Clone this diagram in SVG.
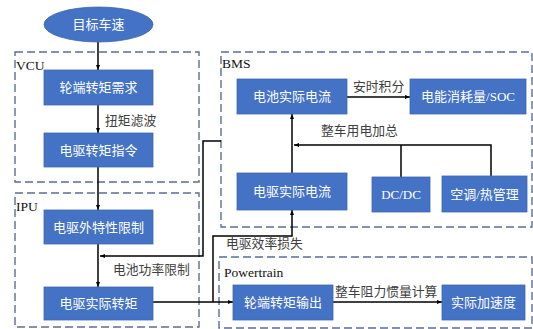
<svg xmlns="http://www.w3.org/2000/svg" width="533" height="329" viewBox="0 0 533 329">
<style>
.grp{fill:none;stroke:#5a6e93;stroke-width:1.4;stroke-dasharray:8,4}
.box{fill:#4472c4;stroke:#3f68b2;stroke-width:0.8}
.bt{fill:#ffffff;font-family:"Liberation Serif","Noto Sans CJK SC",serif;font-size:13px;text-anchor:middle;dominant-baseline:central}
.gl{fill:#111111;font-family:"Liberation Serif","Noto Sans CJK SC",serif;font-size:13.5px;font-weight:normal}
.lb{fill:#404040;font-family:"Liberation Serif","Noto Sans CJK SC",serif;font-size:12.8px;dominant-baseline:central}
.ln{fill:none;stroke:#000000;stroke-width:1.5}
</style>
<defs>
<marker id="ah" viewBox="0 0 10 10" refX="10" refY="5" markerWidth="5" markerHeight="5" orient="auto" markerUnits="userSpaceOnUse">
<path d="M0,1 L10,5 L0,9 z" fill="#000000"/>
</marker>
</defs>
<rect width="533" height="329" fill="#ffffff"/>
<g id="groups">
<g id="vcu"><rect class="grp" x="15" y="52" width="184" height="130"/><text class="gl" x="16" y="70">VCU</text></g>
<g id="ipu"><rect class="grp" x="15" y="193" width="184" height="134"/><text class="gl" x="16" y="211">IPU</text></g>
<g id="bms"><rect class="grp" x="221" y="52" width="311" height="175"/><text class="gl" x="222" y="68">BMS</text></g>
<g id="powertrain"><rect class="grp" x="219" y="257" width="313" height="71"/><text class="gl" x="224" y="277">Powertrain</text></g>
</g>
<g id="connectors">
<line class="ln" x1="98" y1="42" x2="98" y2="70" marker-end="url(#ah)"/>
<line class="ln" x1="98" y1="105" x2="98" y2="133" marker-end="url(#ah)"/>
<line class="ln" x1="98" y1="167" x2="98" y2="210" marker-end="url(#ah)"/>
<line class="ln" x1="98" y1="244" x2="98" y2="287" marker-end="url(#ah)"/>
<polyline class="ln" points="221,141 203,141 203,256 100,256" marker-end="url(#ah)"/>
<line class="ln" x1="153" y1="302" x2="233" y2="302" marker-end="url(#ah)"/>
<polyline class="ln" points="213,302 213,236 292,236 292,210" marker-end="url(#ah)"/>
<line class="ln" x1="292" y1="173" x2="292" y2="114" marker-end="url(#ah)"/>
<line class="ln" x1="347" y1="97" x2="410" y2="97" marker-end="url(#ah)"/>
<polyline class="ln" points="491,176 491,145 294,145" marker-end="url(#ah)"/>
<line class="ln" x1="401" y1="177" x2="401" y2="145"/>
<line class="ln" x1="333" y1="302" x2="442" y2="302" marker-end="url(#ah)"/>
<text class="lb" x="105" y="121">扭矩滤波</text>
<text class="lb" x="113" y="270">电池功率限制</text>
<text class="lb" x="226" y="244">电驱效率损失</text>
<text class="lb" x="353" y="87">安时积分</text>
<text class="lb" x="321" y="131">整车用电加总</text>
<text class="lb" x="335" y="292">整车阻力惯量计算</text>
</g>
<g id="n-target"><ellipse cx="98.5" cy="24.5" rx="54.5" ry="17.5" fill="#4472c4" stroke="#3f68b2" stroke-width="0.8"/><text class="bt" x="98.5" y="24.5">目标车速</text></g>
<g id="n-wheel-demand"><rect class="box" x="44" y="70" width="109" height="35"/><text class="bt" x="98.5" y="87.5">轮端转矩需求</text></g>
<g id="n-motor-cmd"><rect class="box" x="44" y="133" width="109" height="34"/><text class="bt" x="98.5" y="150">电驱转矩指令</text></g>
<g id="n-motor-limit"><rect class="box" x="44" y="210" width="109" height="34"/><text class="bt" x="98.5" y="227">电驱外特性限制</text></g>
<g id="n-motor-torque"><rect class="box" x="44" y="287" width="109" height="33"/><text class="bt" x="98.5" y="303.5">电驱实际转矩</text></g>
<g id="n-batt-current"><rect class="box" x="237" y="79" width="110" height="35"/><text class="bt" x="292" y="96.5">电池实际电流</text></g>
<g id="n-soc"><rect class="box" x="410" y="79" width="116" height="35"/><text class="bt" x="468" y="96.5">电能消耗量/SOC</text></g>
<g id="n-motor-current"><rect class="box" x="237" y="173" width="110" height="37"/><text class="bt" x="292" y="191.5">电驱实际电流</text></g>
<g id="n-dcdc"><rect class="box" x="372" y="177" width="58" height="35"/><text class="bt" x="401" y="194.5">DC/DC</text></g>
<g id="n-hvac"><rect class="box" x="442" y="176" width="85" height="36"/><text class="bt" x="484.5" y="194">空调/热管理</text></g>
<g id="n-wheel-out"><rect class="box" x="233" y="285" width="100" height="35"/><text class="bt" x="283" y="302.5">轮端转矩输出</text></g>
<g id="n-accel"><rect class="box" x="442" y="285" width="83" height="35"/><text class="bt" x="483.5" y="302.5">实际加速度</text></g>
</svg>
